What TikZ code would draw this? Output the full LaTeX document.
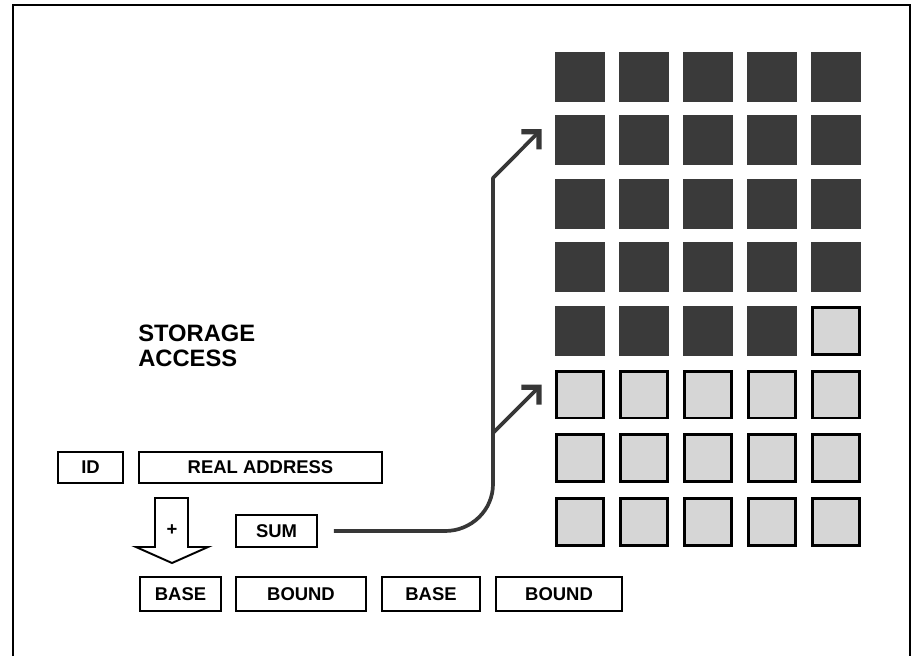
\documentclass[tikz,border=0pt]{standalone}
\usepackage{fontspec}
\setsansfont{Liberation Sans}
\usetikzlibrary{arrows.meta}

\definecolor{storeUsed}{RGB}{58,58,58}
\definecolor{storeFree}{RGB}{214,214,214}
\definecolor{storeLink}{RGB}{55,55,55}

\begin{document}
\begin{tikzpicture}[x=.02cm,y=-.02cm,
      field/.style={draw, line width=1.1pt, inner sep=0pt,
        font=\fontsize{10.5}{12}\selectfont\sffamily\bfseries},
      title/.style={font=\fontsize{13.5}{14.2}\selectfont\sffamily\bfseries,
        align=left, inner sep=0pt, anchor=north west},
      used/.style={fill=storeUsed, draw=storeUsed, line width=.4pt,
        minimum size=.98cm, inner sep=0pt},
      free/.style={fill=storeFree, draw=black, line width=1.7pt,
        minimum size=.94cm, inner sep=0pt},
      link/.style={draw=storeLink, line width=2.1pt, line join=round,
        -{Straight Barb[angle=90:10pt, line width=3pt]}},
      frame/.style={draw, line width=1.2pt}]
      \useasboundingbox (0,0) rectangle (915,656);

      % Outer frame, open at the bottom as in the scan.
      \draw[frame] (13,656) -- (13,5) -- (910,5) -- (910,656);

      \node[title] (heading) at (138,325) {STORAGE\\ACCESS};

      % Address word and the descriptor fields.
      \node[field, minimum width=1.30cm, minimum height=.62cm]
        (id) at (90.5,467.5) {ID};
      \node[field, minimum width=4.86cm, minimum height=.62cm]
        (addr) at (260.5,467.5) {REAL ADDRESS};
      \node[field, minimum width=1.62cm, minimum height=.64cm]
        (sum) at (276.5,531) {SUM};
      \foreach \name/\w/\cx/\txt in {
          base1/1.62/180.5/BASE,bound1/2.60/301/BOUND,
          base2/1.96/431/BASE,bound2/2.52/559/BOUND}{
        \node[field, minimum width=\w cm, minimum height=.68cm]
          (\name) at (\cx,594) {\txt};}

      % Hollow block arrow from the address down to the base field.
      \draw[line width=1.1pt, line join=miter]
        (155,498) -- (188,498) -- (188,547) -- (208,547) -- (172,563)
        -- (136,547) -- (155,547) -- cycle;
      \node[font=\fontsize{10.5}{12}\selectfont\sffamily\bfseries]
        (plus) at (172,530) {+};

      % Storage blocks: the first 24 in use, the rest free.
      \foreach \r in {1,...,8}{
        \foreach \c in {1,...,5}{
          \pgfmathtruncatemacro\k{5*(\r-1)+\c}
          \ifnum\k<25 \def\cellkind{used}\else\def\cellkind{free}\fi
          \node[\cellkind] (cell-\r-\c)
            at ({579.5+64*(\c-1)},{76.5+63.6*(\r-1)}) {};}}

      \coordinate (tip1) at ([shift={(-.26cm,.22cm)}]cell-2-1.west);
      \coordinate (tip2) at ([shift={(-.26cm,.20cm)}]cell-6-1.west);
      \coordinate (fork) at (493,433);

      \draw[link] ([xshift=.32cm]sum.east) -- (445,531)
        to[out=0,in=-90] (493,484) -- (493,178) -- (tip1);
      \draw[link] (fork) -- (tip2);
    \end{tikzpicture}
\end{document}
